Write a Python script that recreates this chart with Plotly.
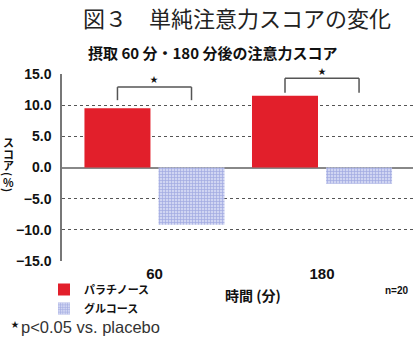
import plotly.graph_objects as go

# --- data -------------------------------------------------------------
times = ["60", "180"]                 # minutes after intake
xpos = [0, 1]
palatinose = [9.5, 11.5]              # attention score change (%)
glucose = [-9.2, -2.6]
series_names = ["パラチノース", "グルコース"]

ytick_vals = [15, 10, 5, 0, -5, -10, -15]
ytick_text = ["15.0", "10.0", "5.0", "0.0", "−5.0", "−10.0", "−15.0"]
y_range = [-15, 15]

# significance brackets (y of top bar, y of legs, y of star)
sig_top = [12.9, 14.3]
sig_leg = [10.8, 12.0]
sig_star = [14.3, 15.6]

# vertical axis title, one glyph per line (brackets are turned sideways)
ytitle_chars = ["ス", "コ", "ア", "(", "%", ")"]
ytitle_turn = [0, 0, 0, 90, 0, 90]

# --- layout helpers ---------------------------------------------------
W, H = 420, 343
L, R, T, B = 62, 7, 74, 82
PW, PH = W - L - R, H - T - B


def px(x):
    return (x - L) / PW


def py(y):
    return (H - B - y) / PH


def ydata_to_paper(v):
    return (v - y_range[0]) / (y_range[1] - y_range[0])


BAR_W = 0.394
HALF = 0.221

JP = "Noto Sans CJK JP"
LAT = "Liberation Sans, Noto Sans CJK JP"

fig = go.Figure()
fig.add_bar(
    x=xpos, y=palatinose, name=series_names[0],
    width=BAR_W, offset=-BAR_W - 0.024,
    marker=dict(color="#e21f2b", line=dict(width=0)),
)
fig.add_bar(
    x=xpos, y=glucose, name=series_names[1],
    width=BAR_W, offset=0.024,
    marker=dict(
        color="#d0d5f2", line=dict(width=0),
        pattern=dict(shape="+", size=3, solidity=0.4,
                     fgcolor="#6f7ccf", bgcolor="#d0d5f2"),
    ),
)

shapes = []
for i, x0 in enumerate(xpos):
    xl, xr = x0 - HALF, x0 + HALF
    for (a, b, c, d) in [(xl, sig_leg[i], xl, sig_top[i]),
                         (xl, sig_top[i], xr, sig_top[i]),
                         (xr, sig_top[i], xr, sig_leg[i])]:
        shapes.append(dict(type="line", xref="x", yref="y",
                           x0=a, y0=b, x1=c, y1=d,
                           line=dict(color="#555555", width=1.5)))

annotations = [
    dict(text="図３　単純注意力スコアの変化", x=px(237), y=py(17),
         font=dict(family=JP, size=22, color="#222222")),
    dict(text="摂取 60 分・180 分後の注意力スコア", x=px(212), y=py(52),
         font=dict(family=JP, size=15, color="#111111", weight="bold")),
    dict(text="時間 (分)", x=px(253), y=py(295),
         font=dict(family=JP, size=14, color="#111111", weight="bold")),
    dict(text="n=20", x=px(411), y=py(290), xanchor="right",
         font=dict(family=LAT, size=10, color="#111111", weight="bold")),
    dict(text="★", x=px(15), y=py(323),
         font=dict(family=JP, size=8, color="#111111")),
    dict(text="p<0.05 vs. placebo", x=px(19), y=py(327), xanchor="left",
         font=dict(family=LAT, size=16.5, color="#333333")),
]
ytitle_y = [142, 154, 165, 174, 182, 190]
for ch, turn, yy in zip(ytitle_chars, ytitle_turn, ytitle_y):
    annotations.append(dict(text=ch, x=px(8), y=py(yy), textangle=turn,
                            font=dict(family=JP, size=11, color="#111111",
                                      weight="bold")))
for i, x0 in enumerate(xpos):
    annotations.append(dict(text="★", x=x0, y=ydata_to_paper(sig_star[i]),
                            xref="x", yref="paper",
                            font=dict(family=JP, size=8, color="#111111")))

for a in annotations:
    a.setdefault("xref", "paper")
    a.setdefault("yref", "paper")
    a.setdefault("showarrow", False)
    a.setdefault("xanchor", "center")
    a.setdefault("yanchor", "middle")

fig.update_layout(
    width=W, height=H,
    margin=dict(l=L, r=R, t=T, b=B),
    paper_bgcolor="white", plot_bgcolor="white",
    barmode="overlay",
    shapes=shapes,
    annotations=annotations,
    legend=dict(
        x=px(44), y=py(275), xanchor="left", yanchor="top",
        font=dict(family=JP, size=11, color="#111111", weight="bold"),
        bgcolor="rgba(0,0,0,0)", tracegroupgap=0, itemwidth=30,
    ),
    xaxis=dict(
        range=[-0.552, 1.543], tickvals=xpos, ticktext=times,
        showgrid=False, zeroline=False, showline=False, ticks="",
        tickfont=dict(family=LAT, size=15, color="#111111", weight="bold"),
        ticklabelstandoff=2,
    ),
    yaxis=dict(
        range=y_range, tickvals=ytick_vals, ticktext=ytick_text,
        showgrid=True, gridcolor="#555555", griddash="dot", gridwidth=1,
        zeroline=True, zerolinecolor="#888888", zerolinewidth=1.5,
        showline=True, linecolor="#777777", linewidth=1.5,
        ticks="", ticklabelstandoff=6,
        tickfont=dict(family=LAT, size=14, color="#111111", weight="bold"),
    ),
)

fig.write_html("out.html")
